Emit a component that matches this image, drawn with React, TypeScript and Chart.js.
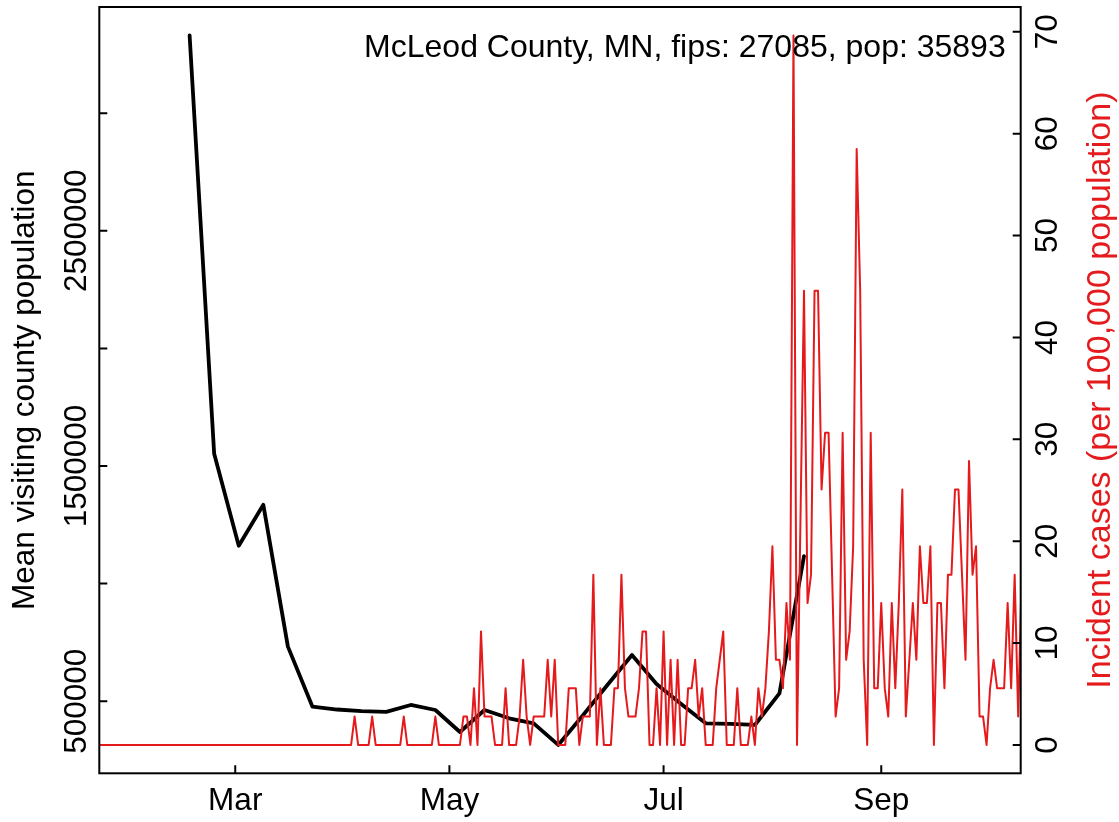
import React, { useEffect, useRef } from "react";
import { Chart, registerables } from "chart.js";

Chart.register(...registerables);

// ---------- text ----------
const CHART_TITLE = "McLeod County, MN, fips: 27085, pop: 35893";
const POPULATION = 35893;
const LEFT_AXIS_TITLE = "Mean visiting county population";
const RIGHT_AXIS_TITLE = "Incident cases (per 100,000 population)";

// ---------- daily new cases (counts), starting 2020-01-22 ----------
const CASES_START = "2020-01-22";
const casesJan = [0, 0, 0, 0, 0, 0, 0, 0, 0, 0];
const casesFeb = [0, 0, 0, 0, 0, 0, 0, 0, 0, 0, 0, 0, 0, 0, 0, 0, 0, 0, 0, 0, 0, 0, 0, 0, 0, 0, 0, 0, 0];
const casesMar = [0, 0, 0, 0, 0, 0, 0, 0, 0, 0, 0, 0, 0, 0, 0, 0, 0, 0, 0, 0, 0, 0, 0, 0, 0, 0, 0, 0, 0, 0, 0];
const casesApr = [0, 0, 0, 1, 0, 0, 0, 0, 1, 0, 0, 0, 0, 0, 0, 0, 0, 1, 0, 0, 0, 0, 0, 0, 0, 0, 1, 0, 0, 0];
const casesMay = [0, 0, 0, 0, 1, 1, 0, 2, 0, 4, 1, 1, 1, 0, 0, 0, 2, 0, 0, 0, 1, 3, 1, 0, 1, 1, 1, 1, 3, 1, 3];
const casesJun = [0, 0, 0, 2, 2, 2, 0, 1, 1, 1, 6, 0, 2, 0, 0, 0, 2, 2, 6, 2, 1, 1, 1, 2, 4, 4, 0, 0, 2, 0];
const casesJul = [4, 0, 3, 0, 3, 0, 0, 2, 2, 3, 1, 2, 0, 0, 0, 2, 3, 4, 0, 0, 0, 2, 0, 0, 0, 1, 0, 2, 1, 2, 4];
const casesAug = [7, 3, 3, 2, 5, 3, 25, 0, 8, 16, 5, 6, 16, 16, 9, 11, 11, 6, 1, 2, 11, 3, 4, 7, 21, 16, 3, 0, 11, 2, 2];
const casesSep = [5, 2, 1, 5, 2, 5, 9, 1, 3, 5, 3, 7, 5, 5, 7, 0, 5, 5, 2, 6, 6, 9, 9, 6, 3, 10, 6, 7, 1, 1];
const casesOct = [0, 2, 3, 2, 2, 2, 5, 2, 6, 1, 6];

// ---------- weekly mean visiting county population ----------
const mobilityWeeks = [
  "2020-02-17", "2020-02-24", "2020-03-02", "2020-03-09", "2020-03-16", "2020-03-23",
  "2020-03-30", "2020-04-06", "2020-04-13", "2020-04-20", "2020-04-27", "2020-05-04",
  "2020-05-11", "2020-05-18", "2020-05-25", "2020-06-01", "2020-06-08", "2020-06-15",
  "2020-06-22", "2020-06-29", "2020-07-06", "2020-07-13", "2020-07-20", "2020-07-27",
  "2020-08-03", "2020-08-10",
];
const meanVisitingPopulation = [
  3330800, 1552000, 1161000, 1335000, 732000, 476600,
  464700, 458000, 455000, 484000, 462600, 369000,
  462600, 427300, 406000, 314200, 439000, 569000,
  696400, 573000, 488000, 406000, 404000, 399000,
  533600, 1117000,
];

// ---------- axes ----------
const xLimits = ["2020-02-01", "2020-10-01"];
const monthTickDates = ["2020-03-01", "2020-05-01", "2020-07-01", "2020-09-01"];
const monthTickLabels = ["Mar", "May", "Jul", "Sep"];
const leftTickValues = [500000, 1000000, 1500000, 2000000, 2500000, 3000000];
const leftTickLabels = ["500000", "", "1500000", "", "2500000", ""];
const rightTickValues = [0, 10, 20, 30, 40, 50, 60, 70];
const rightTickLabels = ["0", "10", "20", "30", "40", "50", "60", "70"];

const RED = "#E41A1C";
const FONT_FAMILY = '"Liberation Sans", Arimo, Arial, Helvetica, sans-serif';
const FONT_SIZE = 31.5;

const ORIGIN = Date.UTC(2020, 2, 1);
function dayNum(s: string): number {
  const [y, m, d] = s.split("-").map(Number);
  return (Date.UTC(y, m - 1, d) - ORIGIN) / 86400000;
}
function padRange(lo: number, hi: number): [number, number] {
  const p = (hi - lo) * 0.04;
  return [lo - p, hi + p];
}

const dailyCases = [
  ...casesJan, ...casesFeb, ...casesMar, ...casesApr, ...casesMay,
  ...casesJun, ...casesJul, ...casesAug, ...casesSep, ...casesOct,
];

const rAxesPlugin = {
  id: "rAxes",
  afterDraw(chart: any) {
    const ctx = chart.ctx as CanvasRenderingContext2D;
    const { left, right, top, bottom } = chart.chartArea;
    const xs = chart.scales.x;
    const yl = chart.scales.yL;
    const yr = chart.scales.yR;
    const TICK = 8;
    ctx.save();
    ctx.strokeStyle = "#000";
    ctx.lineWidth = 2;
    ctx.lineCap = "butt";
    ctx.strokeRect(left, top, right - left, bottom - top);
    ctx.beginPath();
    monthTickDates.forEach((d) => {
      const px = xs.getPixelForValue(dayNum(d));
      ctx.moveTo(px, bottom);
      ctx.lineTo(px, bottom - TICK);
    });
    leftTickValues.forEach((v) => {
      const py = yl.getPixelForValue(v);
      ctx.moveTo(left, py);
      ctx.lineTo(left + TICK, py);
    });
    rightTickValues.forEach((v) => {
      const py = yr.getPixelForValue(v);
      ctx.moveTo(right, py);
      ctx.lineTo(right - TICK, py);
    });
    ctx.stroke();

    ctx.fillStyle = "#000";
    ctx.font = `${FONT_SIZE}px ${FONT_FAMILY}`;
    ctx.textBaseline = "alphabetic";
    ctx.textAlign = "center";
    monthTickDates.forEach((d, i) => {
      const px = xs.getPixelForValue(dayNum(d));
      ctx.fillText(monthTickLabels[i], px, bottom + 36.7);
    });

    const rotText = (text: string, x: number, y: number) => {
      ctx.save();
      ctx.translate(x, y);
      ctx.rotate(-Math.PI / 2);
      ctx.textAlign = "center";
      ctx.fillText(text, 0, 0);
      ctx.restore();
    };
    leftTickValues.forEach((v, i) => {
      if (!leftTickLabels[i]) return;
      rotText(leftTickLabels[i], left - 13.3, yl.getPixelForValue(v));
    });
    rightTickValues.forEach((v, i) => {
      rotText(rightTickLabels[i], right + 36.3, yr.getPixelForValue(v));
    });
    const midY = (top + bottom) / 2;
    rotText(LEFT_AXIS_TITLE, left - 65.3, midY);
    ctx.fillStyle = RED;
    ctx.font = `34px ${FONT_FAMILY}`;
    rotText(RIGHT_AXIS_TITLE, right + 89.3, midY);

    ctx.fillStyle = "#000";
    ctx.font = `32px ${FONT_FAMILY}`;
    ctx.textAlign = "right";
    ctx.fillText(CHART_TITLE, right - 15, top + 50);
    ctx.restore();
  },
};

export default function App() {
  const canvasRef = useRef<HTMLCanvasElement | null>(null);

  useEffect(() => {
    const canvas = canvasRef.current;
    if (!canvas) return;
    const start = dayNum(CASES_START);
    const incidence = dailyCases.map((c) => (c * 100000) / POPULATION);
    const redPoints = incidence.map((v, i) => ({ x: start + i, y: v }));
    const blackPoints = mobilityWeeks.map((w, i) => ({ x: dayNum(w), y: meanVisitingPopulation[i] }));

    const [xMin, xMax] = padRange(dayNum(xLimits[0]), dayNum(xLimits[1]));
    const [lMin, lMax] = padRange(Math.min(...meanVisitingPopulation), Math.max(...meanVisitingPopulation));
    const [rMin, rMax] = padRange(0, Math.max(...incidence));

    const chart = new Chart(canvas, {
      type: "line",
      data: {
        datasets: [
          {
            label: "Incident cases",
            data: redPoints,
            yAxisID: "yR",
            borderColor: RED,
            backgroundColor: RED,
            borderWidth: 2,
            pointRadius: 0,
            tension: 0,
            order: 0,
            clip: 0,
            borderJoinStyle: "round",
          },
          {
            label: "Mean visiting county population",
            data: blackPoints,
            yAxisID: "yL",
            borderColor: "#000",
            backgroundColor: "#000",
            borderWidth: 3.8,
            pointRadius: 0,
            tension: 0,
            order: 1,
            clip: 0,
            borderJoinStyle: "round",
            borderCapStyle: "round",
          },
        ],
      },
      options: {
        responsive: false,
        maintainAspectRatio: false,
        animation: false,
        layout: { padding: { left: 99.3, right: 98.3, top: 7, bottom: 48.7 } },
        scales: {
          x: { type: "linear", min: xMin, max: xMax, display: false },
          yL: { type: "linear", position: "left", min: lMin, max: lMax, display: false },
          yR: { type: "linear", position: "right", min: rMin, max: rMax, display: false },
        },
        plugins: {
          legend: { display: false },
          tooltip: { enabled: false },
          title: { display: false },
        },
      } as any,
      plugins: [rAxesPlugin],
    });
    return () => chart.destroy();
  }, []);

  return (
    <div style={{ position: "absolute", left: 0, top: 0, width: 1119, height: 822, background: "#fff" }}>
      <canvas ref={canvasRef} width={1119} height={822} style={{ width: 1119, height: 822, display: "block" }} />
    </div>
  );
}
